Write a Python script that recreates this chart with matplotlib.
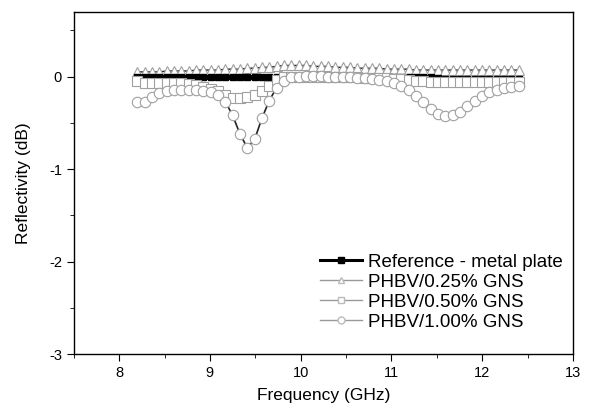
import numpy as np
import matplotlib
matplotlib.use("Agg")
import matplotlib.pyplot as plt
from matplotlib.ticker import MultipleLocator
from matplotlib.lines import Line2D

plt.rcParams['font.family'] = ['Liberation Sans', 'DejaVu Sans']
plt.rcParams['axes.unicode_minus'] = False

freq = np.linspace(8.2, 12.4, 53)

ref_metal = [0.00, 0.00, -0.01, -0.01, -0.01, -0.01, -0.01, -0.01, -0.01, -0.01,
             -0.01, -0.01, -0.01, -0.01, -0.01, -0.01, -0.01, -0.01, -0.01, -0.01,
             0.00, 0.00, 0.00, 0.00, 0.00, 0.00, 0.00, 0.00, 0.00, 0.00,
             0.00, 0.00, 0.00, 0.00, 0.00, -0.01, -0.01, -0.01, -0.01, -0.01,
             -0.01, -0.02, -0.03, -0.03, -0.03, -0.03, -0.03, -0.03, -0.03, -0.03,
             -0.03, -0.03, -0.03]

gns_025 = [0.05, 0.05, 0.05, 0.05, 0.06, 0.06, 0.06, 0.06, 0.07, 0.07,
           0.07, 0.07, 0.08, 0.08, 0.08, 0.09, 0.09, 0.10, 0.10, 0.11,
           0.12, 0.12, 0.12, 0.12, 0.11, 0.11, 0.11, 0.10, 0.10, 0.10,
           0.09, 0.09, 0.09, 0.09, 0.08, 0.08, 0.08, 0.08, 0.07, 0.07,
           0.07, 0.07, 0.07, 0.07, 0.07, 0.07, 0.07, 0.07, 0.07, 0.07,
           0.07, 0.07, 0.07]

gns_050 = [-0.05, -0.07, -0.07, -0.07, -0.07, -0.07, -0.07, -0.08, -0.09, -0.11,
           -0.13, -0.16, -0.20, -0.23, -0.23, -0.22, -0.20, -0.16, -0.10, -0.04,
           -0.01, 0.00, 0.00, -0.01, -0.01, -0.01, -0.01, -0.01, -0.01, -0.01,
           -0.01, -0.02, -0.02, -0.02, -0.02, -0.03, -0.03, -0.04, -0.05, -0.05,
           -0.06, -0.06, -0.06, -0.06, -0.06, -0.06, -0.06, -0.06, -0.06, -0.06,
           -0.06, -0.06, -0.06]

gns_100 = [-0.28, -0.28, -0.22, -0.18, -0.16, -0.15, -0.15, -0.15, -0.15, -0.16,
           -0.17, -0.20, -0.27, -0.42, -0.62, -0.77, -0.68, -0.45, -0.26, -0.12,
           -0.05, -0.01, 0.00, 0.01, 0.01, 0.01, 0.00, 0.00, -0.01, -0.01,
           -0.02, -0.02, -0.03, -0.04, -0.05, -0.07, -0.10, -0.15, -0.21, -0.28,
           -0.35, -0.40, -0.43, -0.42, -0.38, -0.32, -0.26, -0.21, -0.17, -0.14,
           -0.12, -0.11, -0.10]

labels = ["Reference - metal plate", "PHBV/0.25% GNS", "PHBV/0.50% GNS", "PHBV/1.00% GNS"]

fig = plt.figure(figsize=(5.95, 4.07), dpi=100)
ax = fig.add_axes([0.124, 0.130, 0.839, 0.841])

edge = '#a0a0a0'
ax.plot(freq, gns_025, color='#222222', lw=1.0, marker='^', ms=7.5, mfc='white', mec=edge, mew=0.8, zorder=2)
ax.plot(freq, ref_metal, color='black', lw=3.5, marker='s', ms=5, mfc='black', mec='black', zorder=3)
ax.plot(freq, gns_050, color='#222222', lw=1.0, marker='s', ms=6.5, mfc='white', mec=edge, mew=0.8, zorder=4)
ax.plot(freq, gns_100, color='#222222', lw=1.2, marker='o', ms=7.5, mfc='white', mec=edge, mew=0.8, zorder=5)

ax.set_xlim(7.5, 13)
ax.set_ylim(-3, 0.7)
ax.xaxis.set_major_locator(MultipleLocator(1))
ax.xaxis.set_minor_locator(MultipleLocator(0.5))
ax.yaxis.set_major_locator(MultipleLocator(1))
ax.yaxis.set_minor_locator(MultipleLocator(0.5))
ax.tick_params(which='both', direction='out', top=False, right=False, labelsize=10.5)
ax.tick_params(which='major', length=5)
ax.tick_params(which='minor', length=3)
for s in ax.spines.values():
    s.set_linewidth(1.0)

ax.set_xlabel("Frequency (GHz)", fontsize=12.5, labelpad=6)
ax.set_ylabel("Reflectivity (dB)", fontsize=12.5, labelpad=13)

leg_handles = [
    Line2D([], [], color='black', lw=2.2, marker='s', ms=4, mfc='black', mec='black'),
    Line2D([], [], color='#999999', lw=1.0, marker='^', ms=5, mfc='white', mec='#bbbbbb'),
    Line2D([], [], color='#999999', lw=1.0, marker='s', ms=5, mfc='white', mec='#bbbbbb'),
    Line2D([], [], color='#999999', lw=1.0, marker='o', ms=5, mfc='white', mec='#bbbbbb'),
]
ax.legend(leg_handles, labels, loc='upper left', bbox_to_anchor=(0.493, 0.293),
          frameon=False, fontsize=13.5, handlelength=2.25, labelspacing=0.155,
          handletextpad=0.3, borderaxespad=0, borderpad=0)

fig.savefig("out.png", dpi=100)
